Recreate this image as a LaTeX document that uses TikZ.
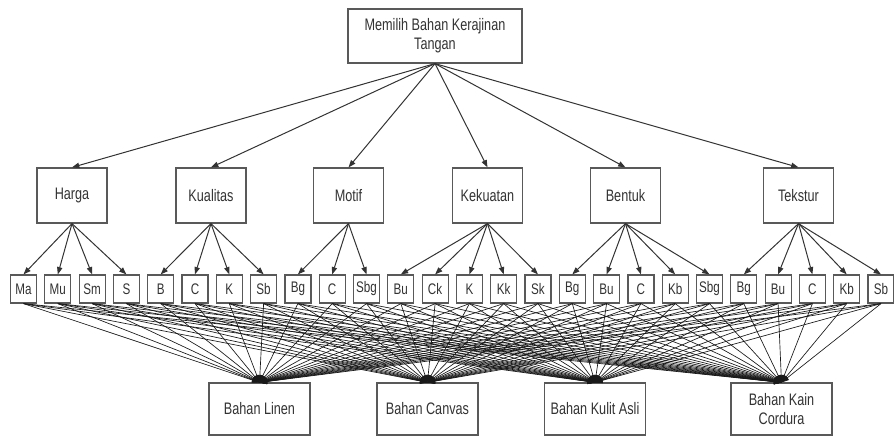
\documentclass[tikz,border=0pt]{standalone}
\usepackage{fontspec}
\setmainfont{Liberation Sans}[FakeStretch=0.76]
\usetikzlibrary{arrows.meta}

\begin{document}
\begin{tikzpicture}[
    x=0.75pt,
    y=-0.75pt,
    font=\fontsize{12.5}{14}\selectfont,
    box/.style={draw=black!65, line width=0.9pt, fill=white, text=black!80,
        align=center, inner sep=1pt},
    goal/.style={box, minimum width=130.5pt, minimum height=40.5pt},
    crit/.style={box, minimum width=52.5pt, minimum height=41.25pt},
    leaf/.style={box, minimum width=19.5pt, minimum height=21pt,
        font=\fontsize{11.5}{13}\selectfont},
    alt/.style={box, minimum width=75.75pt, minimum height=39pt},
    link/.style={draw=black!80, line width=0.75pt,
        -{Triangle[length=5.5pt,width=4pt]}},
    fan/.style={draw=black!90, line width=0.5pt,
        -{Triangle[length=5.5pt,width=4pt]}}
]
\useasboundingbox (0,0) rectangle (894,437);

% Goal
\node[goal] (goal) at (435,36) {Memilih Bahan Kerajinan\\Tangan};

% Criteria
\foreach \name/\txt/\x in {
    harga/Harga/72,
    kualitas/Kualitas/211,
    motif/Motif/348.5,
    kekuatan/Kekuatan/487.5,
    bentuk/Bentuk/625.5,
    tekstur/Tekstur/798.5%
} {
    \node[crit] (\name) at (\x,195.5) {\txt};
    \draw[link] (goal.south) -- (\name.north);
}

% Sub-criteria, 34.3 px apart
\foreach \i/\txt/\crit in {
    1/Ma/harga, 2/Mu/harga, 3/Sm/harga, 4/S/harga,
    5/B/kualitas, 6/C/kualitas, 7/K/kualitas, 8/Sb/kualitas,
    9/Bg/motif, 10/C/motif, 11/Sbg/motif,
    12/Bu/kekuatan, 13/Ck/kekuatan, 14/K/kekuatan, 15/Kk/kekuatan, 16/Sk/kekuatan,
    17/Bg/bentuk, 18/Bu/bentuk, 19/C/bentuk, 20/Kb/bentuk, 21/Sbg/bentuk,
    22/Bg/tekstur, 23/Bu/tekstur, 24/C/tekstur, 25/Kb/tekstur, 26/Sb/tekstur%
} {
    \node[leaf] (lf\i) at ({23.5+34.3*(\i-1)},289) {\txt};
    \draw[link] (\crit.south) -- (lf\i.north);
}

% Alternatives
\node[alt] (linen) at (259.5,409) {Bahan Linen};
\node[alt] (canvas) at (427.5,409) {Bahan Canvas};
\node[alt] (kulit) at (595,409) {Bahan Kulit Asli};
\node[alt] (cordura) at (781.5,409) {Bahan Kain\\Cordura};

% Every sub-criterion to every alternative
\foreach \i in {1,...,26} {
    \foreach \alt in {linen,canvas,kulit,cordura} {
        \draw[fan] (lf\i.south) -- (\alt.north);
    }
}
\end{tikzpicture}
\end{document}
